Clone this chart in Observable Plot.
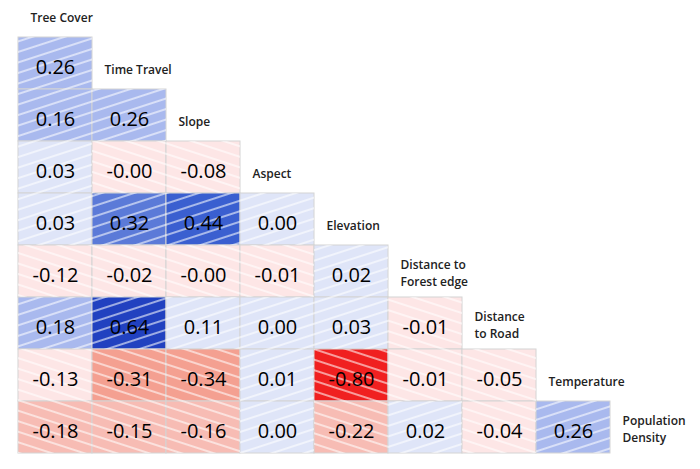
<!DOCTYPE html>
<html>
<head>
<meta charset="utf-8">
<script src="https://cdn.jsdelivr.net/npm/d3@7"></script>
<script src="https://cdn.jsdelivr.net/npm/@observablehq/plot@0.6"></script>
<style>
  html, body { margin: 0; padding: 0; background: #fff; }
</style>
</head>
<body>
<div id="chart"></div>
<script>
// Variables (diagonal labels), top-left to bottom-right
const variables = ["Tree Cover", "Time Travel", "Slope", "Aspect", "Elevation",
  "Distance to\nForest edge", "Distance\nto Road", "Temperature", "Population\nDensity"];

// Lower-triangle correlations, one array per row (row variable vs. preceding variables)
const rowTimeTravel   = [0.26];
const rowSlope        = [0.16, 0.26];
const rowAspect       = [0.03, -0.004, -0.08];
const rowElevation    = [0.03, 0.32, 0.44, 0.00];
const rowDistForest   = [-0.12, -0.02, -0.004, -0.01, 0.02];
const rowDistRoad     = [0.18, 0.64, 0.11, 0.00, 0.03, -0.01];
const rowTemperature  = [-0.13, -0.31, -0.34, 0.01, -0.80, -0.01, -0.05];
const rowPopDensity   = [-0.18, -0.15, -0.16, 0.00, -0.22, 0.02, -0.04, 0.26];

const rows = [rowTimeTravel, rowSlope, rowAspect, rowElevation, rowDistForest,
  rowDistRoad, rowTemperature, rowPopDensity];

const cells = [];
rows.forEach((vals, i) => {
  vals.forEach((v, j) => cells.push({row: variables[i + 1], col: variables[j], v}));
});
const diag = variables.map(name => ({name}));

const fmt = v => (v < 0 ? "-" : "") + Math.abs(v).toFixed(2);

const colorThresholds = [-0.5, -0.25, -0.14, 0, 0.12, 0.3, 0.4, 0.6];
const colorRange = ["#f02020", "#f4a091", "#f7bcb4", "#fde6e6", "#dfe5f8",
  "#a9b9ee", "#5b7ad8", "#3a5fd0", "#2141c0"];

const font = "'Open Sans', sans-serif";

const chart = Plot.plot({
  width: 700,
  height: 469,
  marginLeft: 14,
  marginRight: 12,
  marginTop: -16.4,
  marginBottom: 14,
  x: {domain: variables, padding: 0, axis: null},
  y: {domain: variables, padding: 0, axis: null},
  color: {type: "threshold", domain: colorThresholds, range: colorRange},
  style: {fontFamily: font, background: "#fff"},
  marks: [
    Plot.cell(cells, {x: "col", y: "row", fill: "v", stroke: "#d4d4d4", strokeWidth: 1}),
    Plot.cell(cells.filter(d => d.v >= 0), {x: "col", y: "row", fill: "url(#hatchPos)"}),
    Plot.cell(cells.filter(d => d.v < 0), {x: "col", y: "row", fill: "url(#hatchNeg)"}),
    Plot.text(cells, {x: "col", y: "row", text: d => fmt(d.v), fontSize: 20,
      fill: "#000", dy: 4}),
    Plot.text(diag.filter(d => !d.name.includes("\n")), {x: "name", y: "name", text: "name",
      textAnchor: "start", dx: -25, dy: 7, fontSize: 12, fontWeight: 600, fill: "#222"}),
    Plot.text(diag.filter(d => d.name.includes("\n")), {x: "name", y: "name", text: "name",
      textAnchor: "start", dx: -25, dy: 1, fontSize: 12, fontWeight: 600, fill: "#222",
      lineHeight: 1.4})
  ]
});

// Hatch patterns (white diagonal stripes)
const ns = "http://www.w3.org/2000/svg";
const defs = document.createElementNS(ns, "defs");
function addPattern(id, angle) {
  const p = document.createElementNS(ns, "pattern");
  p.setAttribute("id", id);
  p.setAttribute("patternUnits", "userSpaceOnUse");
  p.setAttribute("width", "40");
  p.setAttribute("height", "10");
  p.setAttribute("patternTransform", `rotate(${angle})`);
  const l = document.createElementNS(ns, "line");
  l.setAttribute("x1", "0"); l.setAttribute("x2", "40");
  l.setAttribute("y1", "5"); l.setAttribute("y2", "5");
  l.setAttribute("stroke", "#fff");
  l.setAttribute("stroke-opacity", "0.75");
  l.setAttribute("stroke-width", "1.3");
  p.appendChild(l);
  defs.appendChild(p);
}
addPattern("hatchPos", -18);
addPattern("hatchNeg", 18);
chart.insertBefore(defs, chart.firstChild);

document.getElementById("chart").appendChild(chart);
</script>
</body>
</html>
